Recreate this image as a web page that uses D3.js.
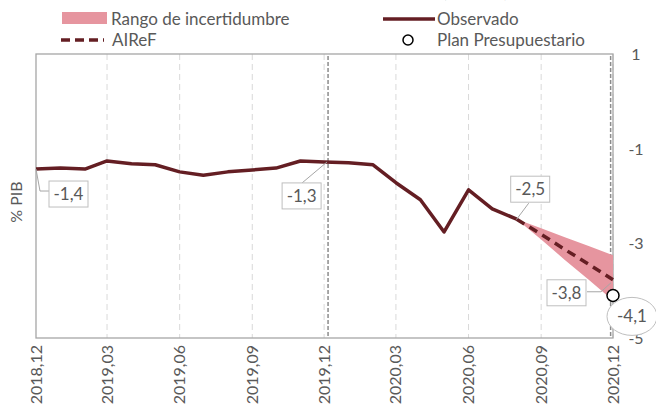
<!DOCTYPE html>
<meta charset="utf-8">
<style>
body { margin: 0; background: #fff; }
svg text { font-family: Lato, "Open Sans", sans-serif; }
</style>
<svg width="656" height="409"></svg>
<script src="https://cdn.jsdelivr.net/npm/d3@7"></script>
<script>

// data
var months = ["2018-12","2019-01","2019-02","2019-03","2019-04","2019-05","2019-06","2019-07","2019-08","2019-09","2019-10","2019-11","2019-12",
              "2020-01","2020-02","2020-03","2020-04","2020-05","2020-06","2020-07","2020-08","2020-09","2020-10","2020-11","2020-12"];
var observed = [-1.43,-1.41,-1.43,-1.26,-1.32,-1.34,-1.49,-1.56,-1.49,-1.45,-1.41,-1.26,-1.28,
                -1.30,-1.34,-1.72,-2.08,-2.76,-1.87,-2.27,-2.49];
var airefMonths = ["2020-08","2020-09","2020-10","2020-11","2020-12"];
var airef = [-2.49,-2.81,-3.13,-3.45,-3.77];
var bandUpper = [-2.49,-2.68,-2.87,-3.06,-3.25];
var bandLower = [-2.49,-2.92,-3.35,-3.78,-4.21];
var planMonth = "2020-12", planValue = -4.1;
var tickMonths = ["2018-12","2019-03","2019-06","2019-09","2019-12","2020-03","2020-06","2020-09","2020-12"];
var yTicks = [1,-1,-3,-5];
var markerDates = ["2019-12-06","2020-11-28"];

var parse = d3.timeParse("%Y-%m"), parseDay = d3.timeParse("%Y-%m-%d");
var fmtTick = d3.timeFormat("%Y,%m");
var fmtNum = function(v) { return d3.format(".1f")(v).replace(".", ",").replace("\u2212", "-"); };

var svg = d3.select("svg");
var m = {left: 36, right: 613, top: 54, bottom: 338};

var x = d3.scaleTime().domain([parse("2018-12"), parse("2020-12")]).range([m.left, m.right]);
var y = d3.scaleLinear().domain([-5, 1]).range([m.bottom, m.top]);

var red = "#641e23", grey = "#595959";

// title (cut off at the top of the frame)
svg.append("text")
    .attr("x", 347).attr("y", -3)
    .attr("text-anchor", "middle")
    .style("font-size", "21px").style("font-weight", "bold")
    .text("Saldo mensual de las AAPP (% PIB)");

// vertical grid
svg.append("g").selectAll("line")
  .data(tickMonths.slice(1))
  .enter().append("line")
    .attr("x1", function(d) { return x(parse(d)); })
    .attr("x2", function(d) { return x(parse(d)); })
    .attr("y1", m.top).attr("y2", m.bottom)
    .attr("stroke", "#d9d9d9").attr("stroke-dasharray", "6,4");

svg.append("g").selectAll("line")
  .data(markerDates)
  .enter().append("line")
    .attr("x1", function(d) { return x(parseDay(d)); })
    .attr("x2", function(d) { return x(parseDay(d)); })
    .attr("y1", m.top + 2).attr("y2", m.bottom)
    .attr("stroke", "#8c8c8c").attr("stroke-width", 1.5).attr("stroke-dasharray", "4,2");

svg.append("rect")
    .attr("x", m.left).attr("y", m.top)
    .attr("width", m.right - m.left).attr("height", m.bottom - m.top)
    .attr("fill", "none").attr("stroke", "#a6a6a6").attr("stroke-width", 1.3);

// x labels
svg.append("g").selectAll("text")
  .data(tickMonths)
  .enter().append("text")
    .attr("transform", function(d) { return "translate(" + (x(parse(d)) + 5.5) + "," + (m.bottom + 7) + ") rotate(-90)"; })
    .attr("text-anchor", "end")
    .attr("fill", grey)
    .style("font-size", "16px")
    .text(function(d) { return fmtTick(parse(d)); });

// y labels on the right
svg.append("g").selectAll("text")
  .data(yTicks)
  .enter().append("text")
    .attr("x", 636).attr("y", function(d) { return y(d) + 6; })
    .attr("text-anchor", "middle")
    .attr("fill", grey)
    .style("font-size", "16px")
    .text(function(d) { return d; });

svg.append("text")
    .attr("transform", "translate(22,202) rotate(-90)")
    .attr("text-anchor", "middle")
    .attr("fill", grey)
    .style("font-size", "16px")
    .text("% PIB");

// uncertainty band
var bandData = airefMonths.map(function(mo, i) { return {date: parse(mo), hi: bandUpper[i], lo: bandLower[i]}; });
svg.append("path")
    .datum(bandData)
    .attr("fill", "#e6959f")
    .attr("d", d3.area().x(function(d) { return x(d.date); }).y0(function(d) { return y(d.lo); }).y1(function(d) { return y(d.hi); }));

// observed
var obsData = observed.map(function(v, i) { return {date: parse(months[i]), value: v}; });
var line = d3.line().x(function(d) { return x(d.date); }).y(function(d) { return y(d.value); });
svg.append("path")
    .datum(obsData)
    .attr("fill", "none").attr("stroke", red).attr("stroke-width", 3.5)
    .attr("stroke-linejoin", "round")
    .attr("d", line);

// AIReF
var airefData = airefMonths.map(function(mo, i) { return {date: parse(mo), value: airef[i]}; });
svg.append("path")
    .datum(airefData)
    .attr("fill", "none").attr("stroke", red).attr("stroke-width", 3.5)
    .attr("stroke-dasharray", "9,6")
    .attr("d", line);

// plan
svg.append("circle")
    .attr("cx", x(parse(planMonth))).attr("cy", y(planValue)).attr("r", 6)
    .attr("fill", "#fff").attr("stroke", "#000").attr("stroke-width", 1.5);

// data labels
var labels = [
  {date: parse(months[0]), value: observed[0], bx: 13, by: 12, leader: [[0,0],[4,22],[13,22]]},
  {date: parse(months[12]), value: observed[12], bx: -42, by: 21, leader: [[3,0],[-22,21]]},
  {date: parse(months[20]), value: observed[20], bx: -6, by: -43, leader: [[0,0],[12,-16]]},
  {date: parse(airefMonths[4]), value: airef[4], bx: -66, by: 0, leader: [[-2,3],[-12,12],[-26,12]]}
];
labels.forEach(function(d) {
  var px = x(d.date), py = y(d.value);
  svg.append("path")
      .attr("d", d3.line()(d.leader.map(function(p) { return [px + p[0], py + p[1]]; })))
      .attr("fill", "none").attr("stroke", "#a6a6a6");
  svg.append("rect")
      .attr("x", px + d.bx).attr("y", py + d.by).attr("width", 39).attr("height", 26)
      .attr("fill", "#fff").attr("stroke", "#bfbfbf");
  svg.append("text")
      .attr("x", px + d.bx + 19.5).attr("y", py + d.by + 19)
      .attr("text-anchor", "middle").attr("fill", grey)
      .style("font-size", "17px")
      .text(fmtNum(d.value));
});

var ppx = x(parse(planMonth)), ppy = y(planValue);
svg.append("ellipse")
    .attr("cx", ppx + 19).attr("cy", ppy + 21).attr("rx", 25).attr("ry", 19)
    .attr("fill", "#fff").attr("stroke", "#bfbfbf");
svg.append("text")
    .attr("x", ppx + 19).attr("y", ppy + 27)
    .attr("text-anchor", "middle").attr("fill", grey)
    .style("font-size", "17px")
    .text(fmtNum(planValue));

// legend
var lg = svg.append("g").style("font-size", "17px");
lg.append("rect").attr("x", 62).attr("y", 12).attr("width", 45).attr("height", 12).attr("fill", "#e6959f");
lg.append("text").attr("x", 111).attr("y", 25).attr("fill", grey).text("Rango de incertidumbre");
lg.append("line").attr("x1", 383).attr("x2", 435).attr("y1", 19).attr("y2", 19).attr("stroke", red).attr("stroke-width", 3.5);
lg.append("text").attr("x", 437).attr("y", 25).attr("fill", grey).text("Observado");
lg.append("line").attr("x1", 61).attr("x2", 104).attr("y1", 40).attr("y2", 40)
    .attr("stroke", red).attr("stroke-width", 3.5).attr("stroke-dasharray", "9,5");
lg.append("text").attr("x", 112).attr("y", 46).attr("fill", grey).text("AIReF");
lg.append("circle").attr("cx", 408).attr("cy", 40).attr("r", 5).attr("fill", "#fff").attr("stroke", "#000").attr("stroke-width", 1.5);
lg.append("text").attr("x", 437).attr("y", 46).attr("fill", grey).text("Plan Presupuestario");

</script>
